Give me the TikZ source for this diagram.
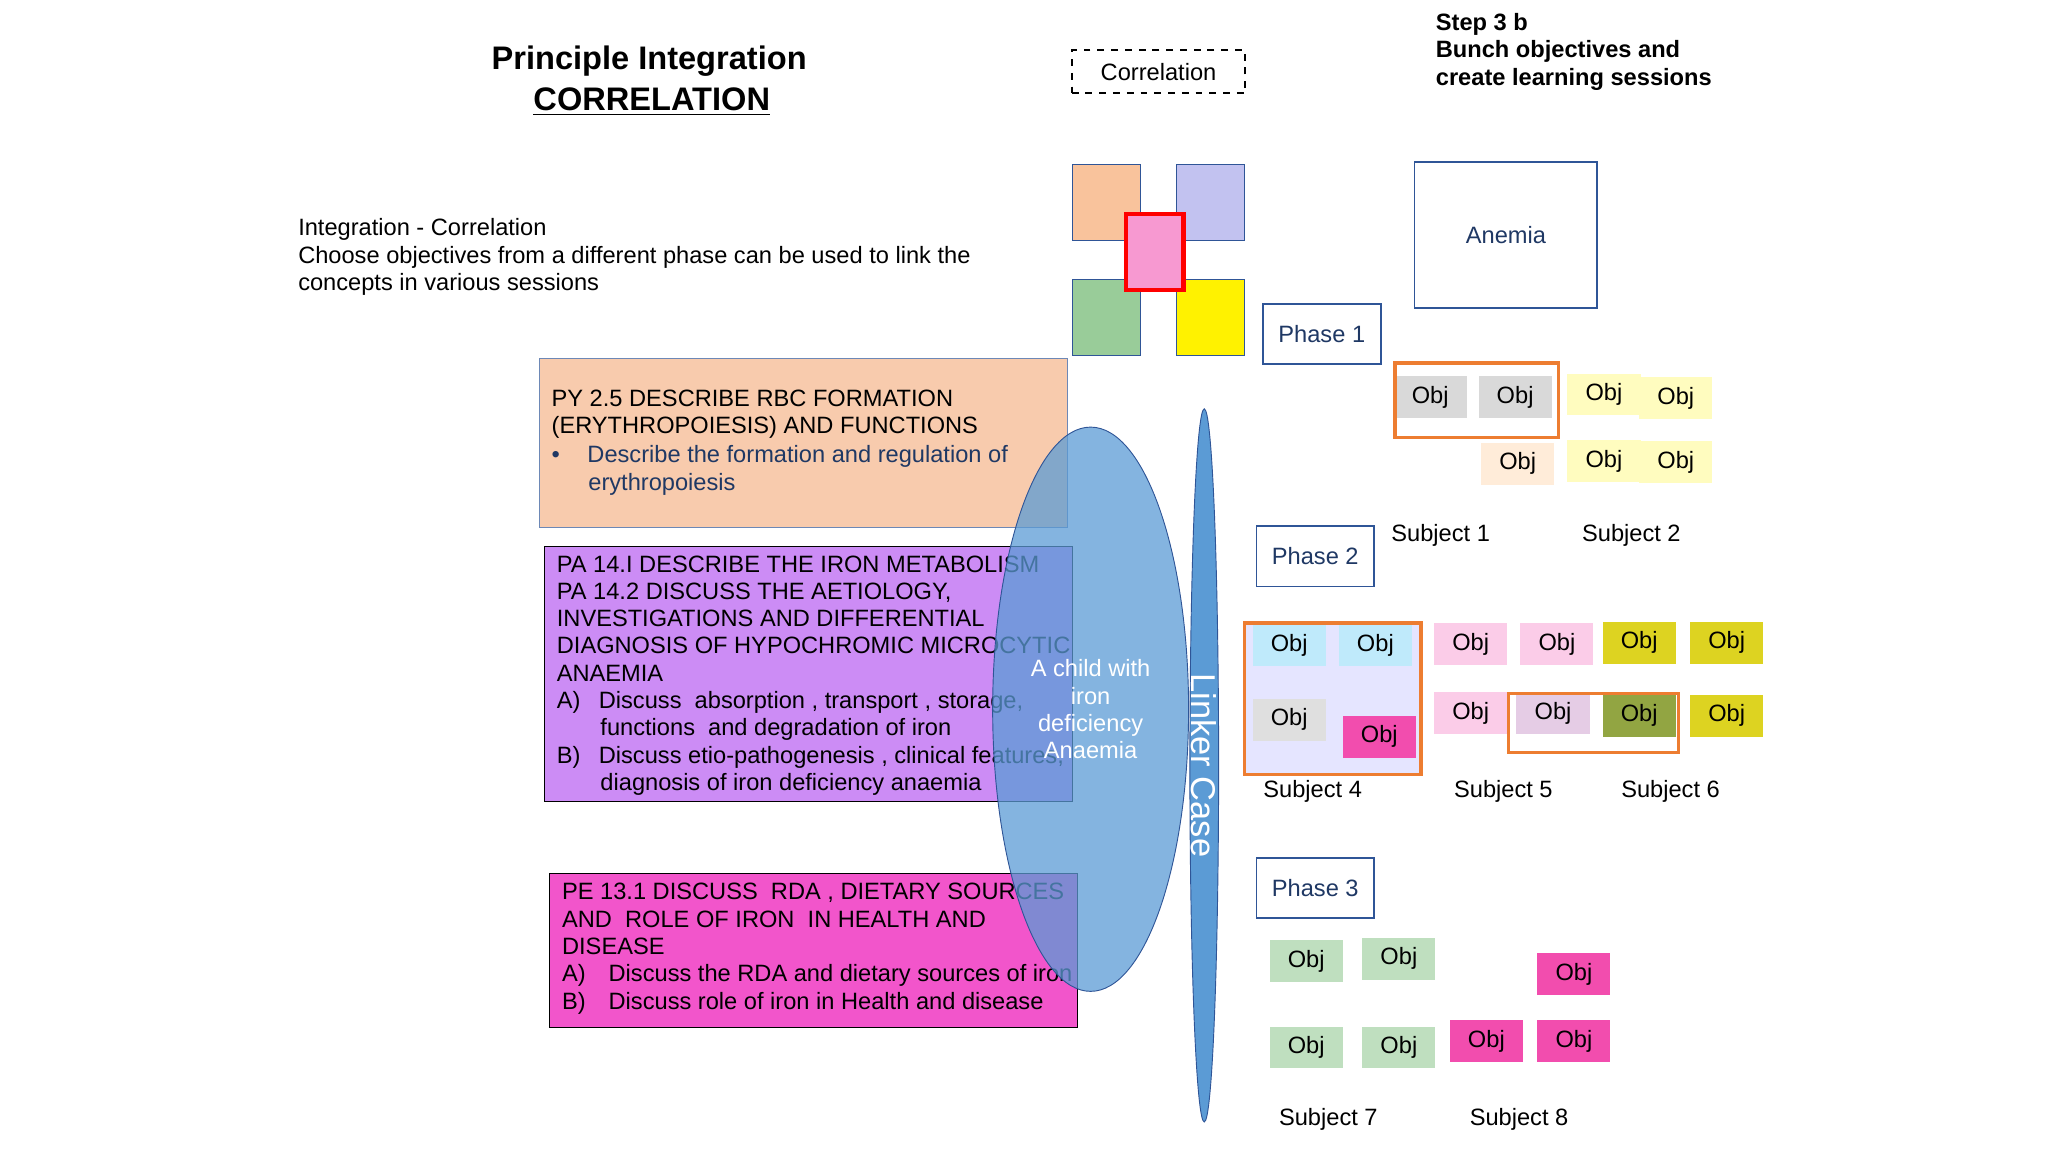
\documentclass[tikz,border=0pt]{standalone}
\usepackage{fontspec}
\setmainfont{Liberation Sans}
\usetikzlibrary{shapes,positioning}
\definecolor{navy}{HTML}{1F3864}
\definecolor{boxblue}{HTML}{2F5597}
\definecolor{peach}{HTML}{F8CBAD}
\definecolor{lilac}{HTML}{CC8CF5}
\definecolor{hotpink}{HTML}{F255CB}
\definecolor{oborange}{HTML}{ED7D31}
\definecolor{elblue}{HTML}{5B9BD5}
\begin{document}
\begin{tikzpicture}
    [x=0.02cm, y=-0.02cm, font=\fontsize{10.3}{11.9}\selectfont,
    sz/.style 2 args={minimum width=#1*0.02cm, minimum height=#2*0.02cm, inner sep=0pt},
    obj/.style={sz={56}{32}},
    phase/.style={draw=boxblue, thick, text=navy, sz={90}{46}},
    sq/.style={draw=boxblue, sz={52}{58}},
    grp/.style={draw=oborange, line width=1.5pt},
    txt/.style={anchor=north west, align=left, inner sep=0pt}]

  \useasboundingbox (0,0) rectangle (1568,882);

  % headings
  \node[font=\fontsize{14.2}{17}\selectfont\bfseries] (title) at (497,47) {Principle Integration};
  \node[font=\fontsize{14.2}{17}\selectfont\bfseries] (corr) at (499,78) {\underline{CORRELATION}};
  \node[txt] (intro) at (228,167) {Integration - Correlation\\
    Choose objectives from a different phase can be used to link the\\
    concepts in various sessions};
  \node[draw, dashed, thick, sz={133}{33}] (dash) at (887,55) {Correlation};
  \node[txt, font=\fontsize{10.3}{11.9}\selectfont\bfseries] (step) at (1099,10)
    {Step 3 b\\Bunch objectives and\\create learning sessions};

  % coloured squares
  \node[sq, fill=peach!90!orange] (sqa) at (847,155) {};
  \node[sq, fill=gray!40!blue!30] (sqb) at (927,155) {};
  \node[sq, fill=green!50!black!40] (sqc) at (847,243) {};
  \node[sq, fill=yellow] (sqd) at (927,243) {};
  \node[fill=magenta!40, draw=red, line width=2pt, sz={44}{58}] (sqe) at (884,193) {};

  \node[draw=boxblue, thick, text=navy, sz={140}{112}] (anemia) at (1153,180) {Anemia};
  \node[phase] (ph1) at (1012,256) {Phase 1};
  \node[phase] (ph2) at (1007,426) {Phase 2};
  \node[phase] (ph3) at (1007,680) {Phase 3};

  % competency boxes
  \node[fill=peach, draw=boxblue!70, sz={404}{129}] (py) at (615,339) {};
  \node[txt] (pyt) at (422,298) {PY 2.5 DESCRIBE RBC FORMATION\\(ERYTHROPOIESIS) AND FUNCTIONS};
  \node[txt, text=navy] (pyb) at (422,341) {•\hspace{12pt}Describe the formation and regulation of\\\hspace{16pt}erythropoiesis};
  \node[fill=lilac, draw=black, sz={404}{195}] (pa) at (619,516) {};
  \node[txt] (pat) at (426,425) {PA 14.I DESCRIBE THE IRON METABOLISM\\
    PA 14.2 DISCUSS THE AETIOLOGY,\\
    INVESTIGATIONS AND DIFFERENTIAL\\
    DIAGNOSIS OF HYPOCHROMIC MICROCYTIC\\
    ANAEMIA\\
    A)\hspace{8pt}Discuss\ \ absorption , transport , storage,\\
    \hspace{19pt}functions\ \ and degradation of iron\\
    B)\hspace{8pt}Discuss etio-pathogenesis , clinical features,\\
    \hspace{19pt}diagnosis of iron deficiency anaemia};
  \node[fill=hotpink, draw=black, sz={404}{118}] (pe) at (623,728) {};
  \node[txt] (pet) at (430,676) {PE 13.1 DISCUSS\ \ RDA , DIETARY SOURCES\\
    AND\ \ ROLE OF IRON\ \ IN HEALTH AND\\
    DISEASE\\
    A)\hspace{10pt}Discuss the RDA and dietary sources of iron\\
    B)\hspace{10pt}Discuss role of iron in Health and disease};

  % linking ellipses
  \node[ellipse, fill=elblue, fill opacity=0.75, draw=boxblue, sz={150}{432}, text opacity=1,
    text=white, align=center] (case) at (835,543) {A child with\\iron\\deficiency\\Anaemia};
  \node[ellipse, fill=elblue, draw=boxblue, sz={22}{546}] (linker) at (922,586) {};
  \node[rotate=-90, text=white, font=\fontsize{15}{17}\selectfont] (lk) at (922,586) {Linker Case};

  % objective groups
  \node[fill=blue!10, sz={135}{116}] (g4bg) at (1020,535) {};
  \foreach \px/\py/\col [count=\i] in
     {1095/304/gray!30, 1160/304/gray!30, 1162/355/orange!15,
      1228/302/yellow!25, 1283/305/yellow!25, 1228/353/yellow!25, 1283/354/yellow!25,
      987/494/cyan!25, 1053/494/cyan!25, 987/551/gray!25, 1056/564/magenta!70,
      1126/493/magenta!20, 1192/493/magenta!20, 1126/546/magenta!20, 1189/546/violet!20,
      1255/492/yellow!85!black, 1322/492/yellow!85!black, 1322/548/yellow!85!black, 1255/548/yellow!60!black!80!green,
      1000/736/green!50!black!25, 1071/734/green!50!black!25, 1000/802/green!50!black!25, 1071/802/green!50!black!25,
      1205/746/magenta!70, 1138/797/magenta!70, 1205/797/magenta!70}
    \node[obj, fill=\col] (o\i) at (\px,\py) {Obj};

  \draw[grp] (1068,278) rectangle (1193,335);
  \draw[grp] (953,477) rectangle (1088,593);
  \draw[grp] (1155,531) rectangle (1285,576);

  % subject labels
  \foreach \px/\py/\n in {1103/410/1, 1249/410/2, 1005/606/4, 1151/606/5, 1279/606/6, 1017/857/7, 1163/857/8}
    \node (s\n) at (\px,\py) {Subject \n};

\end{tikzpicture}
\end{document}
